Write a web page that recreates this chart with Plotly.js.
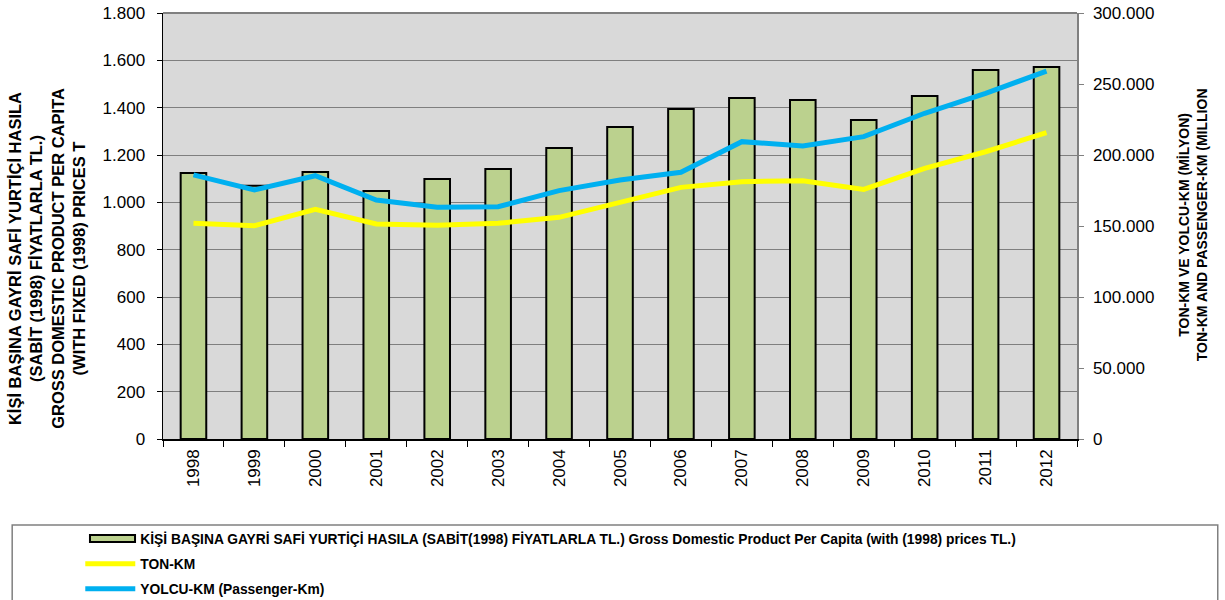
<!DOCTYPE html>
<html><head><meta charset="utf-8">
<script src="https://cdn.plot.ly/plotly-3.0.1.min.js"></script>
<style>body{margin:0;background:#fff}#c{width:1225px;height:600px}</style>
</head><body><div id="c"></div>
<script>
var years = ['1998','1999','2000','2001','2002','2003','2004','2005','2006','2007','2008','2009','2010','2011','2012'];
var gdpPerCapita = [1124,1070,1128,1048,1099,1141,1230,1318,1394,1441,1432,1348,1449,1559,1572];
var tonKm = [151900,150200,161700,151400,150500,151900,156100,167100,177200,181200,181900,175800,190600,202300,215700];
var yolcuKm = [186000,175400,185400,168300,163200,163600,174900,182400,187800,209400,206300,212900,229400,243400,259100];

var nameGdp = 'KİŞİ BAŞINA GAYRİ SAFİ YURTİÇİ HASILA (SABİT(1998) FİYATLARLA TL.) Gross Domestic Product Per Capita (with (1998) prices TL.)';
var nameTon = 'TON-KM';
var nameYolcu = 'YOLCU-KM (Passenger-Km)';
var leftTitle = 'KİŞİ BAŞINA GAYRİ SAFİ YURTİÇİ HASILA<br>(SABİT (1998) FİYATLARLA TL.)<br>GROSS DOMESTIC PRODUCT PER CAPITA<br>(WITH FIXED (1998) PRICES T';
var rightTitle = 'TON-KM VE YOLCU-KM (MİLYON)<br>TON-KM AND PASSENGER-KM (MILLION';

var F = 'Liberation Sans, Arial, sans-serif';
var traces = [
  {type:'bar', x:years, y:gdpPerCapita, name:nameGdp, width:0.42, showlegend:false,
   marker:{color:'#bbd18e', line:{color:'#000', width:2}}},
  {type:'scatter', mode:'lines', x:[null], y:[null], name:nameGdp, legendgroup:'a',
   line:{color:'rgba(0,0,0,0)', width:1}, hoverinfo:'skip'},
  {type:'scatter', mode:'lines', x:years, y:tonKm, name:nameTon, yaxis:'y2', legendgroup:'b',
   line:{color:'#ffff00', width:5}},
  {type:'scatter', mode:'lines', x:years, y:yolcuKm, name:nameYolcu, yaxis:'y2', legendgroup:'c',
   line:{color:'#00b0f0', width:5}}
];
var layout = {
  width:1225, height:600,
  margin:{l:163, r:148, t:13, b:161, autoexpand:false},
  paper_bgcolor:'#fff', plot_bgcolor:'#d9d9d9',
  separators:',.',
  font:{family:F, color:'#000'},
  showlegend:true,
  legend:{x:-0.0905, xanchor:'left', y:-0.198, yanchor:'top', orientation:'v',
    traceorder:'grouped', tracegroupgap:4, font:{family:F, size:13.8, weight:'bold'},
    bgcolor:'rgba(0,0,0,0)', itemwidth:50},
  xaxis:{type:'category', tickangle:-90, tickfont:{size:17}, tickson:'boundaries', automargin:false,
    ticks:'outside', ticklen:6, tickcolor:'#000', showline:true, linecolor:'#000', linewidth:1.5,
    showgrid:false, ticklabelstandoff:2},
  yaxis:{range:[0,1800], dtick:200, tickformat:',d', separatethousands:true, tickfont:{size:17}, automargin:false,
    showline:true, linecolor:'#000', linewidth:1.5, ticks:'outside', ticklen:5, tickcolor:'#000',
    gridcolor:'#7f7f7f', gridwidth:1, zeroline:false, ticklabelstandoff:8},
  yaxis2:{range:[0,300000], dtick:50000, tickformat:',d', overlaying:'y', side:'right', automargin:false,
    tickfont:{size:17}, showline:true, linecolor:'#808080', linewidth:1.5, ticks:'outside',
    ticklen:5, tickcolor:'#808080', showgrid:false, zeroline:false, ticklabelstandoff:6},
  shapes:[
    {type:'line', xref:'paper', yref:'paper', x0:0, x1:1, y0:1, y1:1, line:{color:'#808080', width:2}},
    {type:'rect', xref:'paper', yref:'paper', x0:-0.165, x1:1.154, y0:-0.202, y1:-0.40,
     line:{color:'#808080', width:1.5}, fillcolor:'rgba(0,0,0,0)'},
    {type:'rect', xref:'paper', yref:'paper', x0:-0.0799, x1:-0.0306, y0:-0.2254, y1:-0.2418,
     line:{color:'#000', width:2}, fillcolor:'#bbd18e'}
  ],
  annotations:[
    {xref:'paper', yref:'paper', x:-0.127, y:0.425, xanchor:'center', yanchor:'middle', text:leftTitle, textangle:-90, showarrow:false,
     font:{family:F, size:16.5, weight:'bold'}, align:'center'},
    {xref:'paper', yref:'paper', x:1.127, y:0.502, xanchor:'center', yanchor:'middle', text:rightTitle, textangle:-90, showarrow:false,
     font:{family:F, size:14, weight:'bold'}, align:'center'}
  ]
};
Plotly.newPlot('c', traces, layout, {displayModeBar:false, staticPlot:true});
</script></body></html>
